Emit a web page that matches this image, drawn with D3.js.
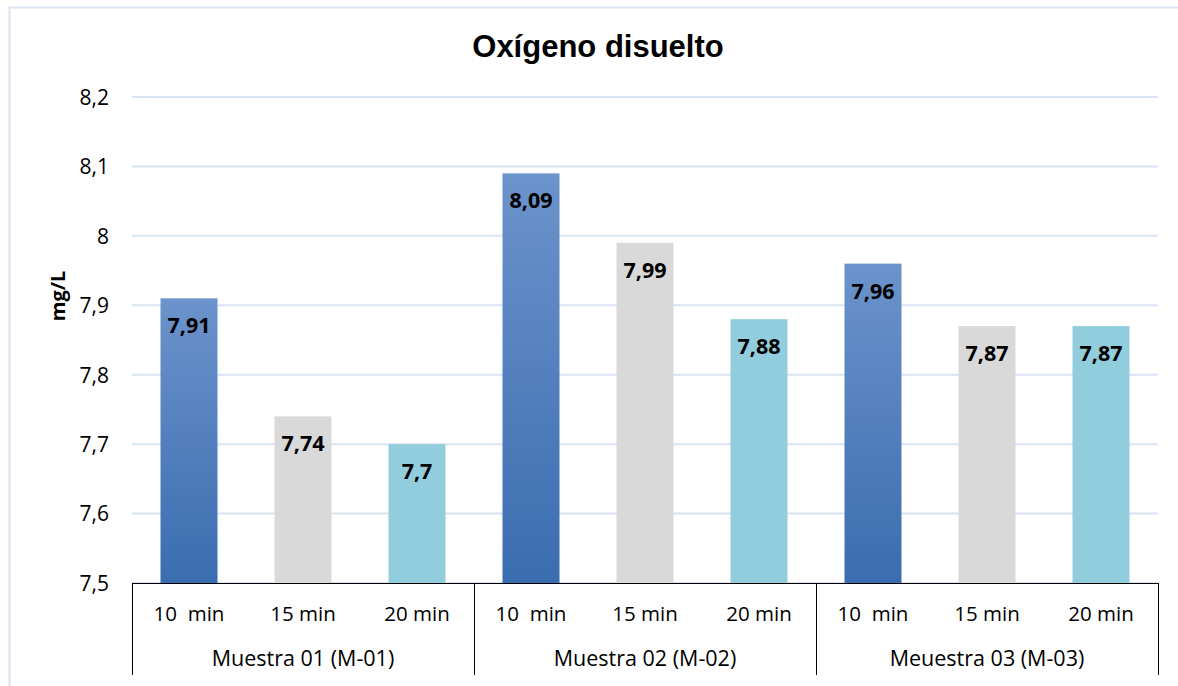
<!DOCTYPE html>
<html>
<head>
<meta charset="utf-8">
<script src="https://cdn.jsdelivr.net/npm/d3@7"></script>
<style>
  html, body { margin: 0; padding: 0; background: #fff; }
  svg text { white-space: pre; }
</style>
</head>
<body>
<svg id="chart" width="1178" height="686"></svg>
<script>
// Dissolved oxygen readings per sample and sampling time
const groups = ["Muestra 01 (M-01)", "Muestra 02 (M-02)", "Meuestra 03 (M-03)"];
const times = ["10  min", "15 min", "20 min"];
const m01 = [7.91, 7.74, 7.7];
const m02 = [8.09, 7.99, 7.88];
const m03 = [7.96, 7.87, 7.87];
const yTicks = [7.5, 7.6, 7.7, 7.8, 7.9, 8, 8.1, 8.2];
const seriesValues = [m01, m02, m03];

const svg = d3.select("#chart");
const W = 1178, H = 686;
const plot = { left: 132, right: 1158, top: 97, bottom: 583 };
const FONT = "'Open Sans', sans-serif";

// Outer chart frame (only top and left edges fall inside the page)
svg.append("path")
  .attr("d", `M9.5,${H} L9.5,7.5 L${W},7.5`)
  .attr("fill", "none")
  .attr("stroke", "#d9e3f3")
  .attr("stroke-width", 2);

const defs = svg.append("defs");
const grad = defs.append("linearGradient")
  .attr("id", "blueGrad")
  .attr("x1", 0).attr("y1", 0).attr("x2", 0).attr("y2", 1);
grad.append("stop").attr("offset", "0%").attr("stop-color", "#6c93cb");
grad.append("stop").attr("offset", "100%").attr("stop-color", "#3a6daf");

const fills = ["url(#blueGrad)", "#d9d9d9", "#92cddd"];

const y = d3.scaleLinear().domain([7.5, 8.2]).range([plot.bottom, plot.top]);
const xGroup = d3.scaleBand().domain(groups).range([plot.left, plot.right]).padding(0);
const xSub = d3.scaleBand().domain(times).range([0, xGroup.bandwidth()]).paddingInner(0.5).paddingOuter(0.25);

const fmt = v => String(v).replace(".", ",");

// Horizontal gridlines
svg.append("g")
  .selectAll("line")
  .data(yTicks)
  .join("line")
  .attr("x1", plot.left).attr("x2", plot.right)
  .attr("y1", d => y(d)).attr("y2", d => y(d))
  .attr("stroke", "#d9e3f3")
  .attr("stroke-width", 2);

// Y axis labels
const yAxis = d3.axisLeft(y).tickValues(yTicks).tickFormat(fmt).tickSize(0).tickPadding(0);
const yg = svg.append("g")
  .attr("transform", `translate(109,0)`)
  .call(yAxis);
yg.select(".domain").remove();
yg.selectAll("text")
  .attr("font-family", FONT)
  .attr("font-size", 21)
  .attr("fill", "#000")
  .attr("dy", "0.35em");

// Y axis title
svg.append("text")
  .attr("transform", `translate(65,296) rotate(-90)`)
  .attr("text-anchor", "middle")
  .attr("font-family", FONT)
  .attr("font-weight", "bold")
  .attr("font-size", 20)
  .text("mg/L");

// Bars and value labels
const rows = [];
groups.forEach((g, gi) => {
  times.forEach((t, ti) => {
    rows.push({ group: g, time: t, ti, value: seriesValues[gi][ti] });
  });
});

const barG = svg.append("g");
barG.selectAll("rect")
  .data(rows)
  .join("rect")
  .attr("x", d => xGroup(d.group) + xSub(d.time))
  .attr("width", xSub.bandwidth())
  .attr("y", d => y(d.value))
  .attr("height", d => y(7.5) - y(d.value))
  .attr("fill", d => fills[d.ti]);

barG.selectAll("text")
  .data(rows)
  .join("text")
  .attr("x", d => xGroup(d.group) + xSub(d.time) + xSub.bandwidth() / 2)
  .attr("y", d => y(d.value) + 35)
  .attr("text-anchor", "middle")
  .attr("font-family", FONT)
  .attr("font-weight", "bold")
  .attr("font-size", 21.5)
  .attr("fill", "#000")
  .text(d => fmt(d.value));

// Category axis: baseline, separators, labels
svg.append("line")
  .attr("x1", plot.left).attr("x2", plot.right)
  .attr("y1", plot.bottom + 0.5).attr("y2", plot.bottom + 0.5)
  .attr("stroke", "#000").attr("stroke-width", 1);

const seps = groups.map(g => xGroup(g)).concat([plot.right]);
svg.append("g")
  .selectAll("line")
  .data(seps)
  .join("line")
  .attr("x1", d => Math.round(d) + 0.5).attr("x2", d => Math.round(d) + 0.5)
  .attr("y1", plot.bottom).attr("y2", 675)
  .attr("stroke", "#000").attr("stroke-width", 1);

svg.append("g")
  .selectAll("text")
  .data(rows)
  .join("text")
  .attr("x", d => xGroup(d.group) + xSub(d.time) + xSub.bandwidth() / 2)
  .attr("y", 621)
  .attr("text-anchor", "middle")
  .attr("font-family", FONT)
  .attr("font-size", 20.5)
  .attr("fill", "#000")
  .text(d => d.time);

svg.append("g")
  .selectAll("text")
  .data(groups)
  .join("text")
  .attr("x", d => xGroup(d) + xGroup.bandwidth() / 2)
  .attr("y", 666)
  .attr("text-anchor", "middle")
  .attr("font-family", FONT)
  .attr("font-size", 21.5)
  .attr("fill", "#000")
  .text(d => d);

// Title
svg.append("text")
  .attr("x", 598)
  .attr("y", 57)
  .attr("text-anchor", "middle")
  .attr("font-family", "'Liberation Sans', Arial, sans-serif")
  .attr("font-weight", "bold")
  .attr("font-size", 31)
  .attr("fill", "#000")
  .text("Oxígeno disuelto");
</script>
</body>
</html>
